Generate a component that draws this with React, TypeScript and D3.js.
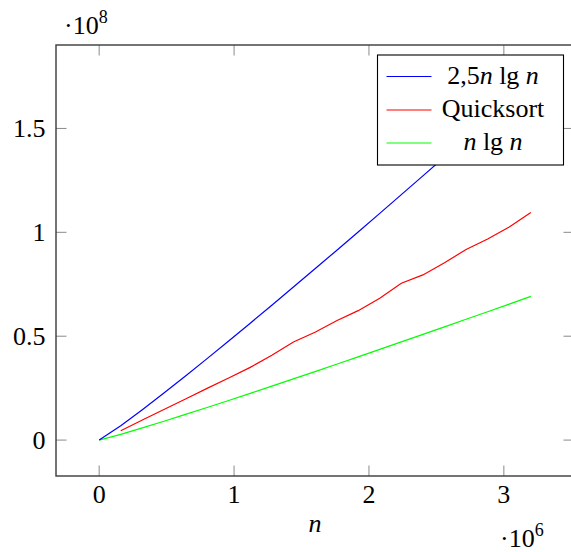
import React from "react";
import * as d3 from "d3";

const nValues = [0, 160000, 320000, 480000, 640000, 800000, 960000, 1120000, 1280000, 1440000, 1600000, 1760000, 1920000, 2080000, 2240000, 2400000, 2560000, 2720000, 2880000, 3040000, 3200000];
const bound25 = [0, 6915085, 14630170, 22647208, 30860343, 39219283, 47694415, 56266168, 64920673, 73647505, 82438560, 91287415, 100188815, 109138380, 118132335, 127167600, 136241345, 145351155, 154494993, 163670865, 172877120];
const nlgn = [0, 2766034, 5852068, 9058883, 12344137, 15687713, 19077766, 22506467, 25968269, 29459002, 32975424, 36514966, 40075526, 43655352, 47252934, 50867040, 54496538, 58140462, 61797997, 65468346, 69150848];
const quickN = [160000, 320000, 480000, 640000, 800000, 960000, 1120000, 1280000, 1440000, 1600000, 1760000, 1920000, 2080000, 2240000, 2400000, 2560000, 2720000, 2880000, 3040000, 3200000];
const quicksort = [4470000, 9700000, 14700000, 19800000, 24900000, 29900000, 35000000, 40800000, 47200000, 51900000, 57400000, 62300000, 68300000, 75500000, 79500000, 85400000, 91700000, 96800000, 102600000, 109600000];

const xTicks = [0, 1000000, 2000000, 3000000];
const xTickLabels = ["0", "1", "2", "3"];
const yTicks = [0, 50000000, 100000000, 150000000];
const yTickLabels = ["0", "0.5", "1", "1.5"];

const FONT = "Liberation Serif";

export default function App() {
  const x = d3.scaleLinear().domain([-320000, 3520000]).range([56, 574]);
  const y = d3.scaleLinear().domain([-17287712, 190164832]).range([476, 45]);

  const line = d3
    .line<[number, number]>()
    .x((d) => x(d[0]))
    .y((d) => y(d[1]));

  const blueD = line(nValues.map((n, i) => [n, bound25[i]]) as [number, number][]) || "";
  const greenD = line(nValues.map((n, i) => [n, nlgn[i]]) as [number, number][]) || "";
  const redD = line(quickN.map((n, i) => [n, quicksort[i]]) as [number, number][]) || "";

  const [x0, x1] = x.range();
  const [yb, yt] = y.range();
  const tickLen = 10.5;
  const fs = 26;
  const ts = { fontFamily: FONT };

  const legendX = 377.5;
  const legendY = 55;
  const legendW = 186;
  const legendH = 110;
  const rows = [
    { color: "#0000ff", y: 76.5 },
    { color: "#ff0000", y: 110 },
    { color: "#00ff00", y: 143 },
  ];
  const textX = 493;

  return (
    <svg
      width={571}
      height={552}
      style={{ position: "absolute", left: 0, top: 0, background: "#fff", fontFamily: FONT }}
    >
      <rect x={0} y={0} width={571} height={552} fill="#fff" />
      {xTicks.map((t) => (
        <g key={"xt" + t} stroke="#8a8a8a" strokeWidth={1}>
          <line x1={x(t)} x2={x(t)} y1={yb} y2={yb - tickLen} />
          <line x1={x(t)} x2={x(t)} y1={yt} y2={yt + tickLen} />
        </g>
      ))}
      {yTicks.map((t) => (
        <g key={"yt" + t} stroke="#8a8a8a" strokeWidth={1}>
          <line x1={x0} x2={x0 + tickLen} y1={y(t)} y2={y(t)} />
          <line x1={x1} x2={x1 - tickLen} y1={y(t)} y2={y(t)} />
        </g>
      ))}
      <path d={greenD} fill="none" stroke="#00ff00" strokeWidth={1.2} />
      <path d={redD} fill="none" stroke="#ff0000" strokeWidth={1.2} />
      <path d={blueD} fill="none" stroke="#0000ff" strokeWidth={1.2} />
      <rect x={x0} y={yt} width={x1 - x0} height={yb - yt} fill="none" stroke="#3a3a3a" strokeWidth={1.4} />
      {xTicks.map((t, i) => (
        <text key={"xl" + t} x={x(t)} y={503} textAnchor="middle" fontSize={fs} fill="#000" style={ts}>
          {xTickLabels[i]}
        </text>
      ))}
      {yTicks.map((t, i) => (
        <text key={"yl" + t} x={45.5} y={y(t) + 9} textAnchor="end" fontSize={fs} fill="#000" style={ts}>
          {yTickLabels[i]}
        </text>
      ))}
      <text x={64} y={33.5} fontSize={fs} fill="#000" style={ts}>
        ·10
        <tspan fontSize={18} dy={-10.5}>8</tspan>
      </text>
      <text x={500} y={546.5} fontSize={fs} fill="#000" style={ts}>
        ·10
        <tspan fontSize={18} dy={-11}>6</tspan>
      </text>
      <text x={315} y={531.5} textAnchor="middle" fontSize={fs} fontStyle="italic" fill="#000" style={ts}>
        n
      </text>
      <rect x={legendX} y={legendY} width={legendW} height={legendH} fill="#fff" stroke="#000" strokeWidth={1.1} />
      {rows.map((r) => (
        <line key={r.color} x1={386.5} x2={431.5} y1={r.y} y2={r.y} stroke={r.color} strokeWidth={1.2} />
      ))}
      <text x={textX} y={83.5} textAnchor="middle" fontSize={fs} fill="#000" style={ts}>
        2,5<tspan fontStyle="italic">n</tspan> lg <tspan fontStyle="italic">n</tspan>
      </text>
      <text x={textX} y={117} textAnchor="middle" fontSize={fs} fill="#000" style={ts}>
        Quicksort
      </text>
      <text x={textX} y={150} textAnchor="middle" fontSize={fs} fill="#000" style={ts}>
        <tspan fontStyle="italic">n</tspan> lg <tspan fontStyle="italic">n</tspan>
      </text>
    </svg>
  );
}
